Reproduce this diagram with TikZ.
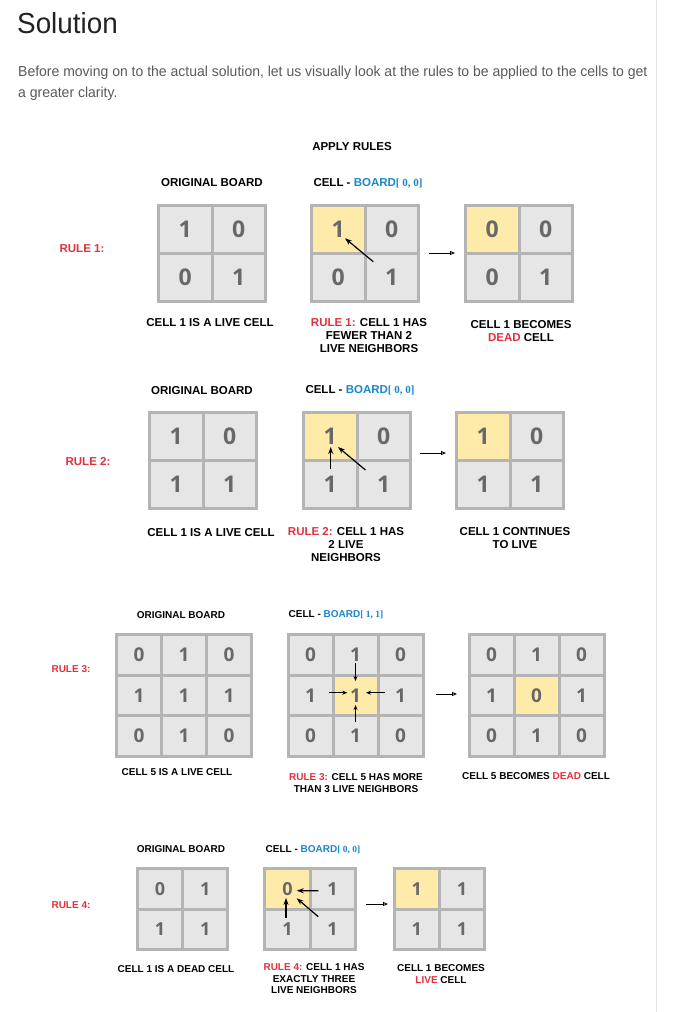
\documentclass[tikz,border=0pt]{standalone}
\usepackage{fontspec}
\usepackage{xcolor}
\usepackage{graphicx}
\setmainfont{Liberation Sans}
\newfontfamily\digitfont{Open Sans}
\newfontfamily\bracketfont{Liberation Serif}
\usetikzlibrary{arrows.meta, positioning}

\definecolor{cellgray}{HTML}{E6E6E6}
\definecolor{boardgray}{HTML}{B4B4B4}
\definecolor{livecell}{HTML}{FEEBA9}
\definecolor{digitgray}{HTML}{686868}
\definecolor{rulered}{HTML}{E0313F}
\definecolor{boardblue}{HTML}{1B87C9}
\definecolor{bodygray}{HTML}{5A5A5A}
\definecolor{titleblack}{HTML}{222222}
\definecolor{edgegray}{HTML}{E4E4E4}

\newcommand{\redword}[1]{\textcolor{rulered}{#1}}
\newcommand{\boardat}[2]{CELL - \textcolor{boardblue}{BOARD{\bracketfont\bfseries\fontsize{#1}{#1}\selectfont[ #2]}}}

\begin{document}
\begin{tikzpicture}[x=1pt, y=-1pt,
  cellA/.style  = {draw=boardgray, line width=3pt, fill=cellgray, text=digitgray,
                   minimum width=53.5pt, minimum height=48pt, inner sep=0pt,
                   font=\digitfont\bfseries\fontsize{23}{24}\selectfont},
  cellB/.style  = {cellA, minimum width=45pt, minimum height=40.6pt,
                   font=\digitfont\bfseries\fontsize{19}{20}\selectfont},
  cellC/.style  = {cellA, minimum width=45.2pt, minimum height=40.2pt,
                   font=\digitfont\bfseries\fontsize{18}{19}\selectfont},
  live/.style   = {fill=livecell},
  hand/.style   = {inner sep=0pt, align=center, font=\bfseries\fontsize{11.5}{13}\selectfont},
  handsm/.style = {inner sep=0pt, align=center, font=\bfseries\fontsize{10}{11.5}\selectfont},
  nb/.style     = {-{Stealth[length=7pt, width=5pt]}, line width=1.2pt},
  nbs/.style    = {-{Stealth[length=5pt, width=4pt]}, line width=0.8pt},
  go/.style     = {-{Triangle[open, length=5pt, width=4pt]}, line width=0.9pt},
]

\fill[white] (0,0) rectangle (675,1012);
\useasboundingbox (0,0) rectangle (675,1012);
\draw[edgegray, line width=1pt] (656,0) -- (656,1012);

%% ── HEADER ────────────────────────────────────────────────────────────────
\node[anchor=base west, inner sep=0pt, text=titleblack,
      font=\fontsize{29}{32}\selectfont] (title) at (17,33)
     {\scalebox{0.96}[1]{Solution}};
\node[anchor=base west, inner sep=0pt, text=bodygray,
      font=\fontsize{14.5}{20}\selectfont] (intro1) at (18,76)
     {\scalebox{0.965}[1]{Before moving on to the actual solution, let us visually look at the rules to be applied to the cells to get}};
\node[anchor=base west, inner sep=0pt, text=bodygray,
      font=\fontsize{14.5}{20}\selectfont] (intro2) at (18,97)
     {\scalebox{0.965}[1]{a greater clarity.}};

\node[hand, anchor=base] (apply) at (352,150) {APPLY RULES};

%% ── RULE 1 ────────────────────────────────────────────────────────────────
\node[hand, anchor=base] (org1) at (212,186) {ORIGINAL BOARD};
\node[hand, anchor=base] (ref1) at (368,186) {\boardat{11}{0, 0}};
\node[hand, anchor=base, text=rulered] (r1) at (82,252) {RULE 1:};

\foreach \c/\r/\v in {0/0/1, 1/0/0, 0/1/0, 1/1/1}
  \node[cellA] (o1-\c\r) at (158.5+\c*53.5+26.75, 205+\r*48+24) {\v};
\foreach \c/\r/\v in {1/0/0, 0/1/0, 1/1/1}
  \node[cellA] (m1-\c\r) at (311.5+\c*53.5+26.75, 205+\r*48+24) {\v};
\node[cellA, live] (m1-00) at (311.5+26.75, 229) {1};
\foreach \c/\r/\v in {1/0/0, 0/1/0, 1/1/1}
  \node[cellA] (n1-\c\r) at (465.5+\c*53.5+26.75, 205+\r*48+24) {\v};
\node[cellA, live] (n1-00) at (465.5+26.75, 229) {0};

\draw[nb] ([shift={(-18.5,-15.3)}]m1-11.center) -- ([shift={(6.8,9.3)}]m1-00.center);
\coordinate (s1a) at (429,253);
\coordinate (s1b) at (455,253);
\draw[go] (s1a) -- (s1b);

\node[hand, anchor=base] (cap1a) at (210,326) {CELL 1 IS A LIVE CELL};
\node[hand, anchor=north] (cap1b) at (369,318)
     {\redword{RULE 1:} CELL 1 HAS\\FEWER THAN 2\\LIVE NEIGHBORS};
\node[hand, anchor=north] (cap1c) at (521,320)
     {CELL 1 BECOMES\\\redword{DEAD} CELL};

%% ── RULE 2 ────────────────────────────────────────────────────────────────
\node[hand, anchor=base] (org2) at (202,394) {ORIGINAL BOARD};
\node[hand, anchor=base] (ref2) at (360,393) {\boardat{11}{0, 0}};
\node[hand, anchor=base, text=rulered] (r2) at (88,465) {RULE 2:};

\foreach \c/\r/\v in {0/0/1, 1/0/0, 0/1/1, 1/1/1}
  \node[cellA] (o2-\c\r) at (149.5+\c*53.5+26.75, 412+\r*48+24) {\v};
\foreach \c/\r/\v in {1/0/0, 0/1/1, 1/1/1}
  \node[cellA] (m2-\c\r) at (303.5+\c*53.5+26.75, 412+\r*48+24) {\v};
\node[cellA, live] (m2-00) at (303.5+26.75, 436) {1};
\foreach \c/\r/\v in {1/0/0, 0/1/1, 1/1/1}
  \node[cellA] (n2-\c\r) at (456.5+\c*53.5+26.75, 412+\r*48+24) {\v};
\node[cellA, live] (n2-00) at (456.5+26.75, 436) {1};

\draw[nb] ([shift={(0.5,-15)}]m2-01.center) -- ([shift={(0.5,11)}]m2-00.center);
\draw[nb] ([shift={(-18.3,-14)}]m2-11.center) -- ([shift={(7.7,11)}]m2-00.center);
\coordinate (s2a) at (420,453);
\coordinate (s2b) at (446,453);
\draw[go] (s2a) -- (s2b);

\node[hand, anchor=base] (cap2a) at (211,536) {CELL 1 IS A LIVE CELL};
\node[hand, anchor=north] (cap2b) at (346,527)
     {\redword{RULE 2:} CELL 1 HAS\\2 LIVE\\NEIGHBORS};
\node[hand, anchor=north] (cap2c) at (515,527)
     {CELL 1 CONTINUES\\TO LIVE};

%% ── RULE 3 ────────────────────────────────────────────────────────────────
\node[handsm, anchor=base] (org3) at (181,618.6) {ORIGINAL BOARD};
\node[handsm, anchor=base] (ref3) at (336,617.6) {\boardat{9.5}{1, 1}};
\node[handsm, anchor=base, text=rulered] (r3) at (71,672.6) {RULE 3:};

\foreach \c/\r/\v in {0/0/0, 1/0/1, 2/0/0, 0/1/1, 1/1/1, 2/1/1, 0/2/0, 1/2/1, 2/2/0}
  \node[cellB] (o3-\c\r) at (116.5+\c*45+22.5, 634.5+\r*40.6+20.3) {\v};
\foreach \c/\r/\v in {0/0/0, 1/0/1, 2/0/0, 0/1/1, 2/1/1, 0/2/0, 1/2/1, 2/2/0}
  \node[cellB] (m3-\c\r) at (288+\c*45+22.5, 634.5+\r*40.6+20.3) {\v};
\node[cellB, live] (m3-11) at (288+45+22.5, 634.5+40.6+20.3) {1};
\foreach \c/\r/\v in {0/0/0, 1/0/1, 2/0/0, 0/1/1, 2/1/1, 0/2/0, 1/2/1, 2/2/0}
  \node[cellB] (n3-\c\r) at (469+\c*45+22.5, 634.5+\r*40.6+20.3) {\v};
\node[cellB, live] (n3-11) at (469+45+22.5, 634.5+40.6+20.3) {0};

\draw[nbs] ([shift={(0,8.5)}]m3-10.center) -- ([shift={(0,-14.4)}]m3-11.center);
\draw[nbs] ([shift={(0,-14.3)}]m3-12.center) -- ([shift={(0,9.6)}]m3-11.center);
\draw[nbs] ([shift={(18.8,-2.7)}]m3-01.center) -- ([shift={(-8.2,-2.7)}]m3-11.center);
\draw[nbs] ([shift={(-15.5,-2.7)}]m3-21.center) -- ([shift={(10.5,-2.7)}]m3-11.center);
\coordinate (s3a) at (436,694);
\coordinate (s3b) at (457,694);
\draw[go] (s3a) -- (s3b);

\node[handsm, anchor=base] (cap3a) at (177,775.6) {CELL 5 IS A LIVE CELL};
\node[handsm, anchor=north] (cap3b) at (356,773.4)
     {\redword{RULE 3:} CELL 5 HAS MORE\\THAN 3 LIVE NEIGHBORS};
\node[handsm, anchor=base] (cap3c) at (536,779.6) {CELL 5 BECOMES \redword{DEAD} CELL};

%% ── RULE 4 ────────────────────────────────────────────────────────────────
\node[handsm, anchor=base] (org4) at (181,852.6) {ORIGINAL BOARD};
\node[handsm, anchor=base] (ref4) at (313,852.6) {\boardat{9.5}{0, 0}};
\node[handsm, anchor=base, text=rulered] (r4) at (71,908.6) {RULE 4:};

\foreach \c/\r/\v in {0/0/0, 1/0/1, 0/1/1, 1/1/1}
  \node[cellC] (o4-\c\r) at (137.5+\c*45.2+22.6, 868.8+\r*40.2+20.1) {\v};
\foreach \c/\r/\v in {1/0/1, 0/1/1, 1/1/1}
  \node[cellC] (m4-\c\r) at (264.8+\c*45.2+22.6, 868.8+\r*40.2+20.1) {\v};
\node[cellC, live] (m4-00) at (264.8+22.6, 888.9) {0};
\foreach \c/\r/\v in {1/0/1, 0/1/1, 1/1/1}
  \node[cellC] (n4-\c\r) at (394.2+\c*45.2+22.6, 868.8+\r*40.2+20.1) {\v};
\node[cellC, live] (n4-00) at (394.2+22.6, 888.9) {1};

\draw[nb] ([shift={(-14.3,1.8)}]m4-10.center) -- ([shift={(9.3,1.8)}]m4-00.center);
\draw[nb] ([shift={(-1.4,-11)}]m4-01.center) -- ([shift={(-1.4,9)}]m4-00.center);
\draw[nb] ([shift={(-14.3,-12.4)}]m4-11.center) -- ([shift={(9.3,9.4)}]m4-00.center);
\coordinate (s4a) at (366,904);
\coordinate (s4b) at (388,904);
\draw[go] (s4a) -- (s4b);

\node[handsm, anchor=base] (cap4a) at (176,972.6) {CELL 1 IS A DEAD CELL};
\node[handsm, anchor=north] (cap4b) at (314,963.4)
     {\redword{RULE 4:} CELL 1 HAS\\EXACTLY THREE\\LIVE NEIGHBORS};
\node[handsm, anchor=north] (cap4c) at (441,964.4)
     {CELL 1 BECOMES\\\redword{LIVE} CELL};

\end{tikzpicture}
\end{document}
